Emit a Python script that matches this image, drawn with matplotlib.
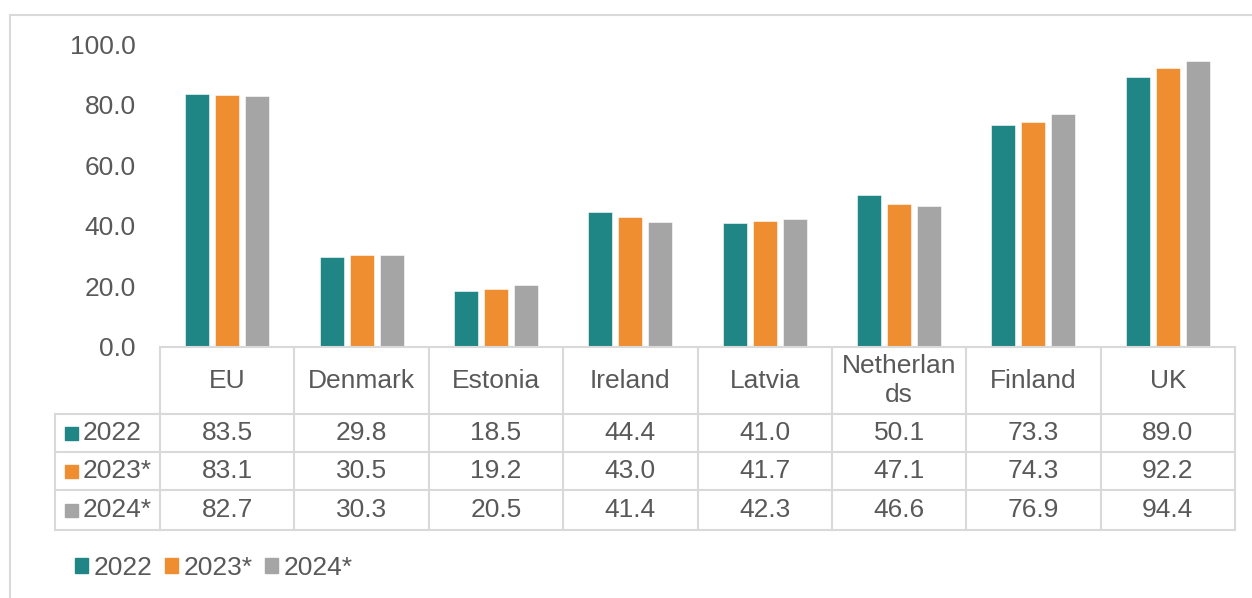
import numpy as np
import matplotlib.pyplot as plt
from matplotlib.patches import Patch
from matplotlib.lines import Line2D

plt.rcParams['font.family'] = ['Liberation Sans', 'DejaVu Sans']

countries = ['EU', 'Denmark', 'Estonia', 'Ireland', 'Latvia', 'Netherlands', 'Finland', 'UK']
header_labels = ['EU', 'Denmark', 'Estonia', 'Ireland', 'Latvia', 'Netherlan\nds', 'Finland', 'UK']
series_names = ['2022', '2023*', '2024*']
v2022 = [83.5, 29.8, 18.5, 44.4, 41.0, 50.1, 73.3, 89.0]
v2023 = [83.1, 30.5, 19.2, 43.0, 41.7, 47.1, 74.3, 92.2]
v2024 = [82.7, 30.3, 20.5, 41.4, 42.3, 46.6, 76.9, 94.4]
yticks = [0, 20, 40, 60, 80, 100]

colors = ['#1F8585', '#EE8E31', '#A5A5A5']
text_col = '#595959'
grid_col = '#D9D9D9'
fs = 19

W, H = 1252, 598
fig = plt.figure(figsize=(W / 100, H / 100), dpi=100)


def rect(x0, y0, x1, y1):
    # pixel box (top-left origin) -> figure fraction rect
    return [x0 / W, 1 - y1 / H, (x1 - x0) / W, (y1 - y0) / H]


# outer chart border
fig.add_artist(Line2D([10 / W, 1], [1 - 15 / H] * 2, color=grid_col, lw=1.5))
fig.add_artist(Line2D([10 / W] * 2, [0, 1 - 15 / H], color=grid_col, lw=1.5))

# bar axes
left, right, top, base = 160, 1235, 44, 347
ax = fig.add_axes(rect(left, top, right, base))
x = np.arange(len(countries))
bw = 0.179
off = 0.223
for i, vals in enumerate([v2022, v2023, v2024]):
    ax.bar(x + (i - 1) * off, vals, bw, color=colors[i], edgecolor='white', linewidth=0.4)
ax.set_xlim(-0.5, len(countries) - 0.5)
ax.set_ylim(0, 100)
ax.set_yticks(yticks)
ax.set_yticklabels([f'{t:.1f}' for t in yticks], fontsize=fs, color=text_col)
ax.tick_params(axis='y', length=0, pad=17.3)
ax.set_xticks([])
for s in ax.spines.values():
    s.set_visible(False)

# data table
tl, tr, ttop, tbot = 55, right, base, 530
rows = [base, 414, 452, 490, tbot]
colw = (right - left) / len(countries)
tax = fig.add_axes(rect(tl, ttop, tr, tbot))
tax.set_xlim(tl, tr)
tax.set_ylim(tbot, ttop)
tax.axis('off')
lw = 1.5
for k in range(len(countries) + 1):
    xx = left + k * colw
    tax.plot([xx, xx], [base, tbot], color=grid_col, lw=lw, clip_on=False)
tax.plot([tl, tl], [rows[1], tbot], color=grid_col, lw=lw, clip_on=False)
tax.plot([left, right], [base, base], color=grid_col, lw=lw, clip_on=False)
for r in rows[1:]:
    tax.plot([tl, tr], [r, r], color=grid_col, lw=lw, clip_on=False)

for k, lab in enumerate(header_labels):
    tax.text(left + (k + 0.5) * colw, (rows[0] + rows[1]) / 2, lab, ha='center', va='center',
             fontsize=fs, color=text_col, linespacing=1.25)

for j, vals in enumerate([v2022, v2023, v2024]):
    yc = (rows[j + 1] + rows[j + 2]) / 2
    tax.add_patch(plt.Rectangle((65, yc - 6.5), 13, 13, color=colors[j], clip_on=False))
    tax.text(83, yc, series_names[j], ha='left', va='center', fontsize=fs, color=text_col)
    for k, v in enumerate(vals):
        tax.text(left + (k + 0.5) * colw, yc, f'{v:.1f}', ha='center', va='center',
                 fontsize=fs, color=text_col)

# legend
handles = [Patch(color=c) for c in colors]
fig.legend(handles, series_names, loc='center left', bbox_to_anchor=(75 / W, 1 - 568 / H),
           ncol=3, frameon=False, fontsize=fs, labelcolor=text_col,
           handlelength=0.5, handleheight=0.5, handletextpad=0.22, columnspacing=0.45,
           borderaxespad=0, borderpad=0)

fig.savefig('out.png', dpi=100)
